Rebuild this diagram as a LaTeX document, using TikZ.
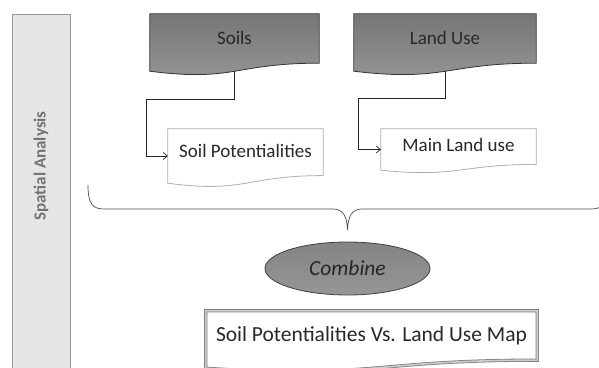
\documentclass[tikz,border=0pt]{standalone}
\usepackage{fontspec}
\setmainfont{Carlito}
\usepackage{tikz}
\usetikzlibrary{
  arrows.meta,
  shapes.geometric,
  backgrounds,
  calc
}
\definecolor{panelfill}{RGB}{230, 230, 230}
\definecolor{panelline}{RGB}{150, 150, 150}
\definecolor{inktext}{RGB}{40, 40, 40}
\definecolor{boxtop}{RGB}{118, 118, 118}
\definecolor{boxbot}{RGB}{150, 150, 150}
\definecolor{paleline}{RGB}{175, 175, 175}

% document outline (wavy bottom) drawn round a named node
\newcommand{\docshape}[2]{%
  \path[#2] (#1.north west) -- (#1.north east)
    -- ($(#1.north east)!0.86!(#1.south east)$)
    .. controls ($(#1.north)!0.86!(#1.south)$) and ($(#1.north)!1.19!(#1.south)$) .. (#1.south west)
    -- cycle;}

\tikzset{
  docbox/.style={rectangle, inner sep=0pt, text depth=10pt, text=inktext, font=\fontsize{19}{22}\selectfont},
  conn/.style={draw=black!85, line width=0.7pt, -{Straight Barb[length=4pt, width=7pt]}}
}

\begin{document}
\begin{tikzpicture}[x=1pt, y=-1pt]
  \useasboundingbox (0,0) rectangle (599,367);
  % side panel
  \draw[draw=panelline, fill=panelfill, line width=0.8pt] (12,14) rectangle (70,380);
  \node[rotate=90, text=black!55, font=\fontsize{17}{20}\selectfont\bfseries] (spatial) at (41,166) {Spatial Analysis};
  % input layers
  \node[docbox, minimum width=169pt, minimum height=57pt] (soils) at (234.5,42.5) {Soils};
  \node[docbox, minimum width=182pt, minimum height=57pt] (landuse) at (445,42.5) {Land Use};
  \node[docbox, minimum width=155pt, minimum height=54pt] (soilpot) at (245.5,156) {Soil Potentialities};
  \node[docbox, minimum width=155pt, minimum height=41pt] (mainland) at (458.5,149.5) {Main Land use};
  \node[ellipse, draw=black!75, line width=0.8pt, top color=boxtop!90, bottom color=boxbot, minimum width=165pt, minimum height=53pt, inner sep=0pt, text=black!85, font=\fontsize{21.5}{24}\selectfont\itshape] (combine) at (347.5,268.5) {Combine};
  \node[docbox, minimum width=331pt, minimum height=57pt, font=\fontsize{21.5}{25}\selectfont] (result) at (371.5,339.5) {Soil Potentialities Vs. Land Use Map};
  \begin{scope}[on background layer]
    \docshape{soils}{draw=black!80, line width=0.8pt, top color=boxtop, bottom color=boxbot}
    \docshape{landuse}{draw=black!80, line width=0.8pt, top color=boxtop, bottom color=boxbot}
    \docshape{soilpot}{draw=paleline, line width=0.8pt, fill=white}
    \docshape{mainland}{draw=paleline, line width=0.8pt, fill=white}
    \docshape{result}{draw=black!50, double=black!20, double distance=1.6pt, line width=0.8pt, fill=white}
  \end{scope}
  \draw[conn] (soils.south) |- ++(-88,28) |- (soilpot.west);
  \draw[conn] (landuse.south) |- ++(-87,27) |- (mainland.west);
  % brace over both results
  \draw[black!70, line width=0.7pt] (88,185) .. controls (88,203) and (92,209) .. (104,209) -- (333,209)
    .. controls (343,209) and (347,216) .. (347.5,230) .. controls (348,216) and (352,209) .. (362,209)
    -- (591,209) .. controls (603,209) and (607,203) .. (607,185);
\end{tikzpicture}
\end{document}
